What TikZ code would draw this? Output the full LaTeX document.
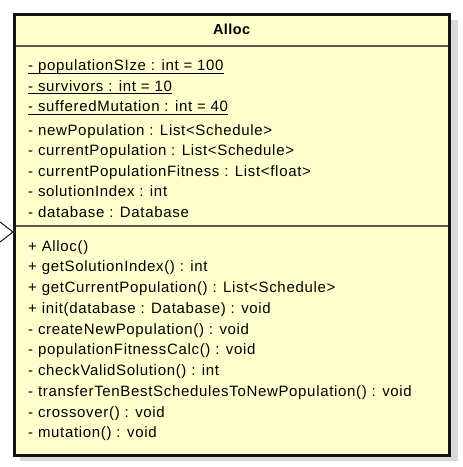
\documentclass[tikz,border=0pt]{standalone}
\usepackage{fontspec}
\usetikzlibrary{fit}
\setmainfont{Liberation Sans}[LetterSpace=4.5]
\newfontfamily\titlefont{Liberation Sans}[LetterSpace=3]
\definecolor{umlfill}{RGB}{255,255,206}
\definecolor{umlline}{RGB}{20,20,20}
\definecolor{sepline}{RGB}{90,90,80}
\definecolor{shadowc}{RGB}{218,218,218}
\begin{document}
\begin{tikzpicture}[x=1pt,y=-1pt,
  member/.style={anchor=base west,inner sep=0pt,font=\fontsize{15}{17}\selectfont,text=black},
  uline/.style={line width=1pt,black},
  sep/.style={line width=1.5pt,sepline},
  wing/.style={line width=1pt,umlline}]
\useasboundingbox (0,0) rectangle (463,467);
% shadow
\fill[shadowc] (20,20) rectangle (458,461);
% class box
\node[draw=umlline,line width=3pt,fill=umlfill,inner sep=0pt,fit={(14.2,14.2) (449.2,455.5)}] (box) {};
% title
\node[anchor=base,inner sep=0pt,font=\titlefont\bfseries\fontsize{14.5}{16}\selectfont] (title) at (231.7,34) {Alloc};
% separators
\coordinate (s1l) at (15.7,46); \coordinate (s1r) at (447.7,46);
\coordinate (s2l) at (15.7,226); \coordinate (s2r) at (447.7,226);
\draw[sep] (s1l) -- (s1r);
\draw[sep] (s2l) -- (s2r);
% static attributes (underlined)
\node[member] (a1) at (28,70.5) {- populationSIze : int = 100};
\node[member] (a2) at (28,91) {- survivors : int = 10};
\node[member] (a3) at (28,111.5) {- sufferedMutation : int = 40};
\foreach \n in {a1,a2,a3} \draw[uline] ([yshift=-2.5pt]\n.base west) -- ([yshift=-2.5pt]\n.base east);
% attributes
\node[member] (a4) at (28,135) {- newPopulation : List<Schedule>};
\node[member] (a5) at (28,155.5) {- currentPopulation : List<Schedule>};
\node[member] (a6) at (28,176) {- currentPopulationFitness : List<float>};
\node[member] (a7) at (28,196.5) {- solutionIndex : int};
\node[member] (a8) at (28,217) {- database : Database};
% methods
\node[member] (m1) at (28,251) {+ Alloc()};
\node[member] (m2) at (28,271.75) {+ getSolutionIndex() : int};
\node[member] (m3) at (28,292.5) {+ getCurrentPopulation() : List<Schedule>};
\node[member] (m4) at (28,313.25) {+ init(database : Database) : void};
\node[member] (m5) at (28,334) {- createNewPopulation() : void};
\node[member] (m6) at (28,354.75) {- populationFitnessCalc() : void};
\node[member] (m7) at (28,375.5) {- checkValidSolution() : int};
\node[member] (m8) at (28,396.25) {- transferTenBestSchedulesToNewPopulation() : void};
\node[member] (m9) at (28,417) {- crossover() : void};
\node[member] (m10) at (28,437.75) {- mutation() : void};
% incoming open arrowhead
\coordinate (tip) at (13,232);
\coordinate (w1) at (0,222);
\coordinate (w2) at (0,242);
\draw[wing] (w1) -- (tip) -- (w2);
\end{tikzpicture}
\end{document}
